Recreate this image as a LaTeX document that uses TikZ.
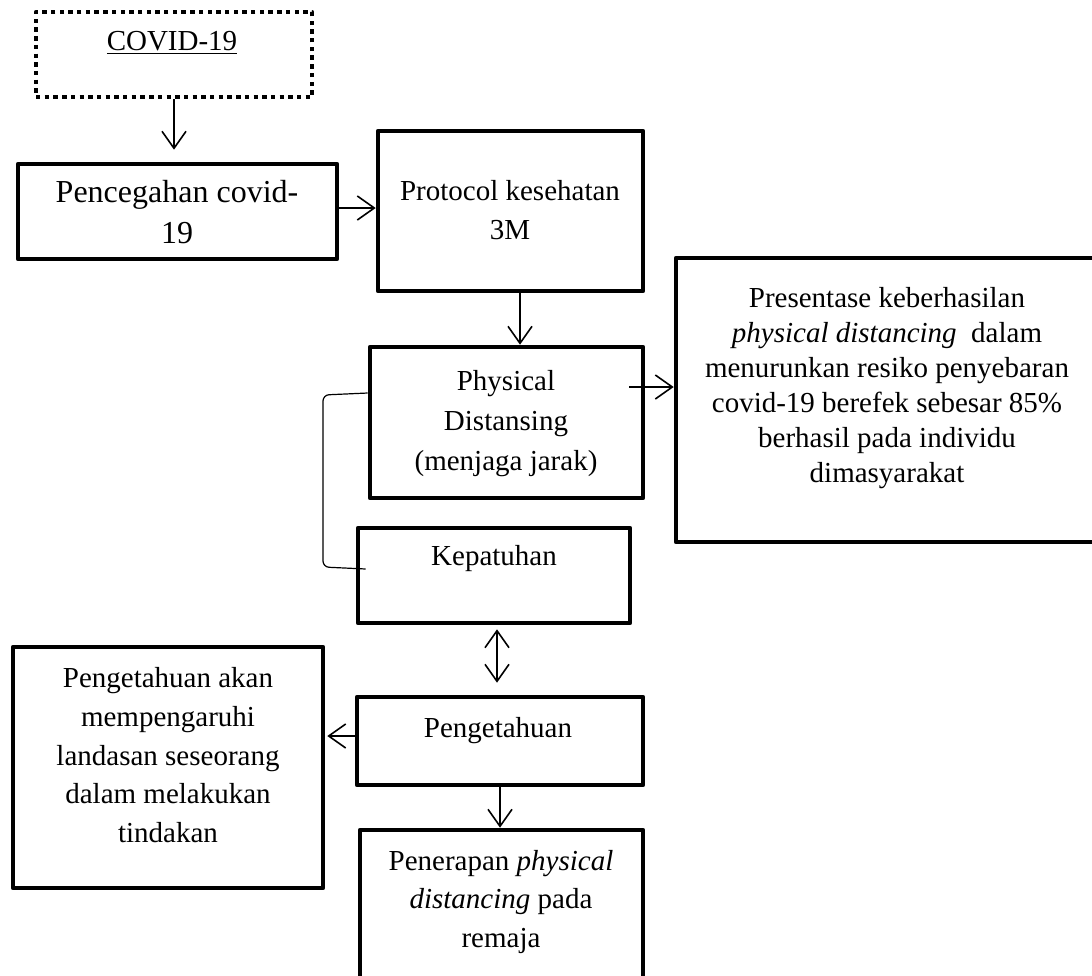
\documentclass[tikz,border=0pt]{standalone}
\usepackage{fontspec}
\setmainfont{Liberation Serif}
\usetikzlibrary{arrows.meta,calc}
\tikzset{
  boxn/.style={draw, line width=2.3pt, rectangle, inner sep=0pt, line join=round},
  dotbox/.style={boxn, line width=2.2pt, dash pattern=on 2.2pt off 2.15pt, line cap=butt},
  txt/.style={inner sep=0pt, align=center, anchor=north},
  arr/.style={line width=0.8pt, -{Straight Barb[length=8.5pt,width=12pt]}},
  darr/.style={line width=0.8pt, {Straight Barb[length=8.5pt,width=12pt]}-{Straight Barb[length=8.5pt,width=12pt]}},
  brk/.style={line width=0.6pt, rounded corners=3pt},
}
\newcommand{\bxn}[6][boxn]{\node[#1, minimum width={(#5-#3)*0.5pt}, minimum height={(#6-#4)*0.5pt}] (#2) at ({(#3+#5)/2},{(#4+#6)/2}) {};}
\newcommand{\fl}{\rule{0pt}{12pt}}
\begin{document}
\begin{tikzpicture}[x=0.5pt,y=-0.5pt]
\useasboundingbox (0,0) rectangle (1092,975);
% boxes
\bxn[dotbox]{covid}{36}{12}{312}{97}
\bxn{prev}{18}{164}{337}{259}
\bxn{prot}{378}{131}{643}{291}
\bxn{phys}{370}{347}{643}{498}
\bxn{pres}{676}{258}{1100}{542}
\bxn{kep}{358}{528}{630}{623}
\bxn{peng}{357}{697}{643}{785}
\bxn{akan}{13}{647}{323}{888}
\bxn{pen}{360}{830}{643}{995}
% texts
\node[txt, font={\fontsize{14.5}{17.5}\selectfont}] (covidt) at (172,26) {\fl\underline{COVID-19}};
\node[txt, font={\fontsize{16}{20.5}\selectfont}] (prevt) at (177,178) {\fl Pencegahan covid-\\19};
\node[txt, font={\fontsize{14.5}{19.5}\selectfont}] (prott) at (510,176) {\fl Protocol kesehatan\\3M};
\node[txt, font={\fontsize{14.5}{20}\selectfont}] (physt) at (506,366) {\fl Physical\\Distansing\\(menjaga jarak)};
\node[txt, font={\fontsize{14.5}{17.5}\selectfont}] (prest) at (887,283) {\fl Presentase keberhasilan\\\textit{physical distancing}~ dalam\\menurunkan resiko penyebaran\\covid-19 berefek sebesar 85\%\\berhasil pada individu\\dimasyarakat};
\node[txt, font={\fontsize{14.5}{17.5}\selectfont}] (kept) at (494,541) {\fl Kepatuhan};
\node[txt, font={\fontsize{14.5}{17.5}\selectfont}] (pengt) at (498,713) {\fl Pengetahuan};
\node[txt, font={\fontsize{14.5}{19.4}\selectfont}] (akant) at (168,663) {\fl Pengetahuan akan\\mempengaruhi\\landasan seseorang\\dalam melakukan\\tindakan};
\node[txt, font={\fontsize{14.5}{19.25}\selectfont}] (pent) at (501,846) {\fl Penerapan \textit{physical}\\\textit{distancing} pada\\remaja};
% connectors
\draw[arr, shorten >=6pt] (covid.south) -- (covid.south |- prev.north);
\coordinate (a1) at ($(prev.east)+(0,-3.5)$);
\draw[arr] (a1) -- (a1 -| prot.west);
\coordinate (a2) at ($(prot.south)+(9.5,0)$);
\draw[arr] (a2) -- (a2 |- phys.north);
\coordinate (a3) at (629,387);
\draw[arr] (a3) -- (a3 -| pres.west);
\draw[brk] ($(phys.west)+(0,-29.5)$) -- (323,395) -- (323,567) -- ($(kep.west)+(10,-6.5)$);
\draw[darr] ($(kep.south)+(3,4)$) -- ($(peng.north)+(-3,-12)$);
\coordinate (a4) at ($(peng.west)+(0,-5)$);
\draw[arr] (a4) -- ($(a4 -| akan.east)+(2,0)$);
\draw[arr] (peng.south) -- (peng.south |- pen.north);
\end{tikzpicture}
\end{document}
